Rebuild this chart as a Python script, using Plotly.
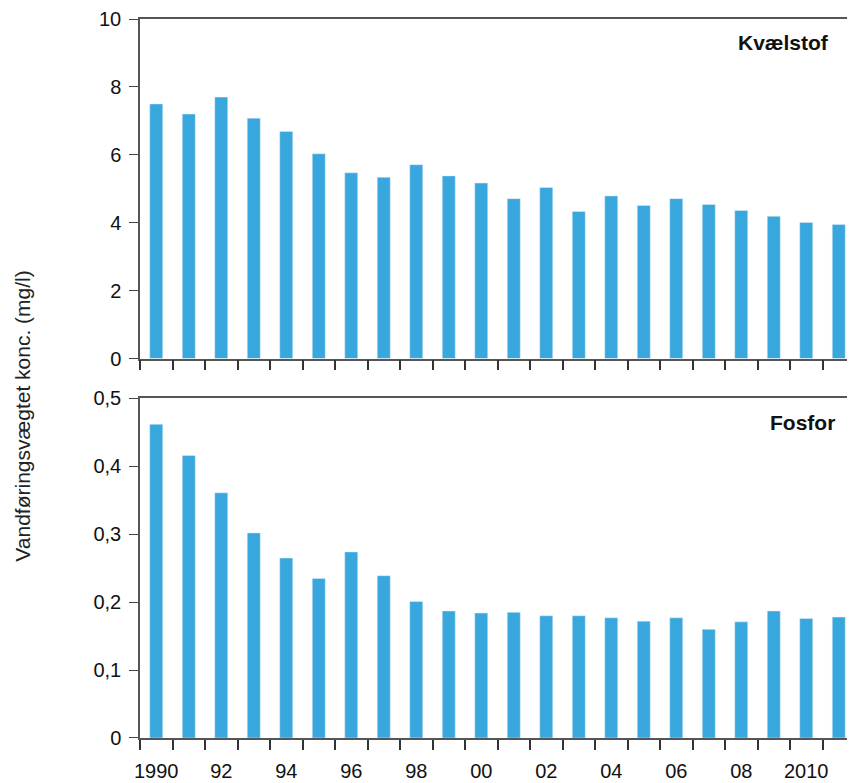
import plotly.graph_objects as go

years = list(range(1990, 2012))
kvaelstof = [7.5, 7.2, 7.7, 7.08, 6.69, 6.03, 5.47, 5.34, 5.71, 5.38, 5.17,
             4.71, 5.04, 4.33, 4.79, 4.51, 4.71, 4.54, 4.36, 4.19, 4.01, 3.95]
fosfor = [0.462, 0.416, 0.361, 0.302, 0.265, 0.235, 0.274, 0.239, 0.201, 0.187, 0.184,
          0.185, 0.180, 0.180, 0.177, 0.172, 0.177, 0.160, 0.171, 0.187, 0.176, 0.178]
x_tick_years = [1990, 1992, 1994, 1996, 1998, 2000, 2002, 2004, 2006, 2008, 2010]
x_tick_text = ["1990", "92", "94", "96", "98", "00", "02", "04", "06", "08", "2010"]
y1_ticks = [0, 2, 4, 6, 8, 10]
y1_text = ["0", "2", "4", "6", "8", "10"]
y2_ticks = [0, 0.1, 0.2, 0.3, 0.4, 0.5]
y2_text = ["0", "0,1", "0,2", "0,3", "0,4", "0,5"]

BAR = "#38a7dd"
LINE = "#555555"
FONT = "Liberation Sans, Arial, sans-serif"

fig = go.Figure()
fig.add_trace(go.Bar(x=years, y=kvaelstof, marker_color=BAR, width=0.4,
                     xaxis="x", yaxis="y", showlegend=False))
fig.add_trace(go.Bar(x=years, y=fosfor, marker_color=BAR, width=0.4,
                     xaxis="x2", yaxis="y2", showlegend=False))

xcommon = dict(range=[1989.5, 2011.5], showgrid=False, zeroline=False,
               showline=True, linecolor=LINE, linewidth=1.5, mirror=True,
               ticks="", tickvals=x_tick_years, ticktext=x_tick_text,
               minor=dict(tick0=1989.5, dtick=1, ticks="outside", ticklen=10,
                          tickcolor="#333", tickwidth=1.5),
               tickfont=dict(size=20, color="#111", family=FONT))
ycommon = dict(showgrid=False, zeroline=False, showline=True, linecolor=LINE,
               linewidth=1.5, ticks="outside", ticklen=9, tickcolor="#444",
               tickwidth=1.2, ticklabelstandoff=4,
               tickfont=dict(size=20, color="#111", family=FONT))

fig.update_layout(
    width=847, height=775,
    margin=dict(l=132, r=0, t=8, b=45),
    plot_bgcolor="white", paper_bgcolor="white",
    bargap=0.6,
    xaxis=dict(xcommon, anchor="y", showticklabels=False),
    yaxis=dict(ycommon, domain=[0.5277, 1.0], range=[0, 10], anchor="x",
               tickvals=y1_ticks, ticktext=y1_text),
    xaxis2=dict(xcommon, anchor="y2", ticklabelstandoff=14),
    yaxis2=dict(ycommon, domain=[0.0, 0.4723], range=[0, 0.5], anchor="x2",
                tickvals=y2_ticks, ticktext=y2_text),
    annotations=[
        dict(text="<b>Kvælstof</b>", x=2009.3, y=9.3, xref="x", yref="y",
             showarrow=False, font=dict(size=21, color="#111", family=FONT)),
        dict(text="<b>Fosfor</b>", x=2009.87, y=0.464, xref="x2", yref="y2",
             showarrow=False, font=dict(size=21, color="#111", family=FONT)),
        dict(text="Vandføringsvægtet konc. (mg/l)", x=-0.1636, y=0.447,
             xref="paper", yref="paper", xanchor="center", yanchor="middle",
             textangle=-90, showarrow=False,
             font=dict(size=21, color="#222", family=FONT)),
    ],
)

fig.write_html("out.html")
